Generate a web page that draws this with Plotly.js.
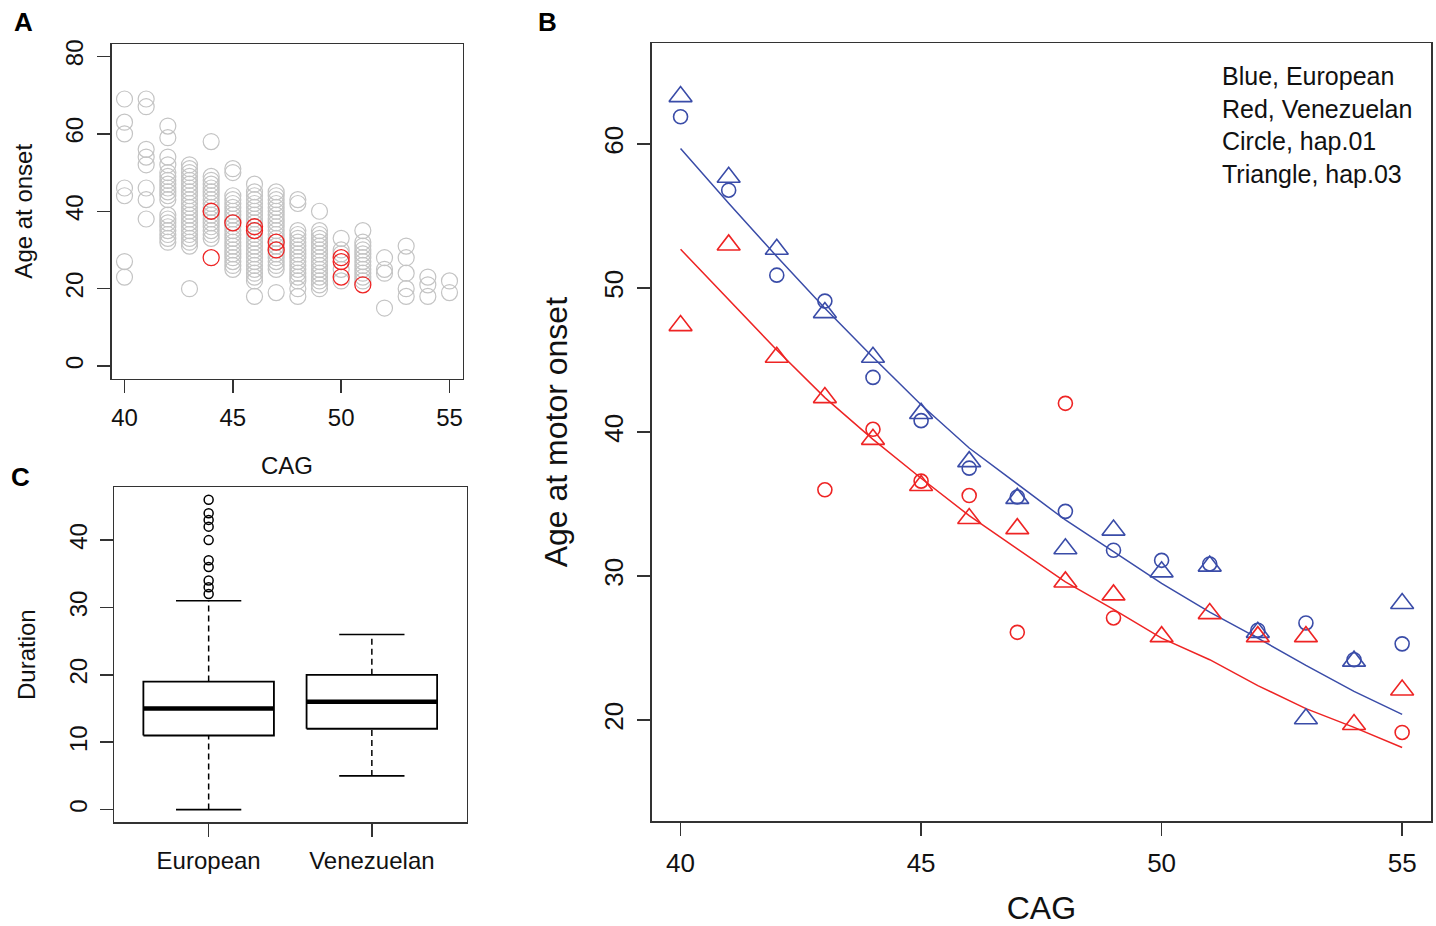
<!DOCTYPE html>
<html>
<head>
<meta charset="utf-8">
<script src="https://cdn.plot.ly/plotly-3.0.1.min.js"></script>
<style>html,body{margin:0;padding:0;background:#fff;}#chart{width:1436px;height:926px;}</style>
</head>
<body>
<div id="chart"></div>
<script>
// ---------------- Panel A data (CAG vs age at onset) ----------------
const aGrayCag = [
  40,40,40,40,40,40,40,
  41,41,41,41,41,41,41,41,
  42,42,42,42,42,42,42,42,42,42,42,42,42,42,42,42,42,42,42,42,
  43,43,43,43,43,43,43,43,43,43,43,43,43,43,43,43,43,43,43,43,43,43,43,
  44,44,44,44,44,44,44,44,44,44,44,44,44,44,44,44,44,44,
  45,45,45,45,45,45,45,45,45,45,45,45,45,45,45,45,45,45,45,45,45,45,
  46,46,46,46,46,46,46,46,46,46,46,46,46,46,46,46,46,46,46,46,46,46,46,46,46,46,
  47,47,47,47,47,47,47,47,47,47,47,47,47,47,47,47,47,47,47,47,47,47,
  48,48,48,48,48,48,48,48,48,48,48,48,48,48,48,48,48,48,
  49,49,49,49,49,49,49,49,49,49,49,49,49,49,49,49,49,
  50,50,50,50,50,
  51,51,51,51,51,51,51,51,51,51,51,51,
  52,52,52,52,
  53,53,53,53,53,
  54,54,54,
  55,55
];
const aGrayAge = [
  69,63,60,46,44,27,23,
  69,67,56,54,52,46,43,38,
  62,59,54,52,50,49,48,47,46,45,44,43,39,38,37,36,35,34,33,32,
  52,51,50,49,48,47,46,45,44,43,42,41,40,39,38,37,36,35,34,33,32,31,20,
  58,49,48,47,46,45,44,43,42,41,40,39,38,37,36,35,34,33,
  51,50,44,43,42,41,40,39,38,37,36,35,34,33,32,31,30,29,28,27,26,25,
  47,45,44,43,42,41,40,39,38,37,36,35,34,33,32,31,30,29,28,27,26,25,24,23,22,18,
  45,44,43,42,41,40,39,38,37,36,35,34,33,32,31,30,29,28,27,26,25,19,
  43,42,35,34,33,32,31,30,29,28,27,26,25,24,23,22,20,18,
  40,35,34,33,32,31,30,29,28,27,26,25,24,23,22,21,20,
  33,30,29,25,22,
  35,32,31,30,29,28,27,26,25,24,23,22,
  28,25,24,15,
  31,28,24,20,18,
  23,21,18,
  22,19
];
const aRedCag = [44,44,45,46,46,47,47,50,50,50,51];
const aRedAge = [40,28,37,36,35,32,30,28,27,23,21];

// ---------------- Panel C data (duration boxplot stats) ----------------
const cGroups = ['European','Venezuelan'];
const cLow  = [0, 5];
const cQ1   = [11, 12];
const cMed  = [15, 16];
const cQ3   = [19, 20];
const cHigh = [31, 26];
const cEurOutliers = [46,44,43,42,40,37,36,34,33,32];

// ---------------- Panel B data (CAG vs age at motor onset) ----------------
const bCag = [40,41,42,43,44,45,46,47,48,49,50,51,52,53,54,55];
const bEurHap01 = [61.9,56.8,50.9,49.1,43.8,40.8,37.5,35.5,34.5,31.8,31.1,30.85,26.25,26.75,24.2,25.3];
const bEurHap03 = [63.3,57.7,52.7,48.3,45.2,41.3,37.95,35.4,31.9,33.2,30.3,30.7,26.1,20.1,24.1,28.1];
const bVenHap01 = [null,null,null,36.0,40.2,36.6,35.6,26.1,42.0,27.1,null,null,null,null,null,19.15];
const bVenHap03 = [47.4,53.0,45.2,42.4,39.5,36.3,34.0,33.3,29.6,28.7,25.8,27.4,25.8,25.8,19.7,22.1];
const bEurFit = [59.7,55.9,52.2,48.6,45.2,41.9,38.9,36.4,33.9,31.7,29.5,27.5,25.7,23.8,22.0,20.4];
const bVenFit = [52.7,49.2,45.7,42.4,39.5,36.8,34.2,31.9,29.6,27.7,25.7,24.2,22.4,20.8,19.5,18.1];
const bNote = ['Blue, European','Red, Venezuelan','Circle, hap.01','Triangle, hap.03'];

// ---------------- styling ----------------
const W = 1436, H = 926;
const FONT = 'Liberation Sans, Arial, Helvetica, sans-serif';
const GRAY = '#c4c4c4', RED = '#ee2424', BLUE = '#3a4ca8', FRAME = '#333333';
const px2x = p => p / W;
const px2y = p => 1 - p / H;

const traces = [];
// Panel A
traces.push({type:'scatter', mode:'markers', x:aGrayCag, y:aGrayAge, xaxis:'x', yaxis:'y',
  marker:{symbol:'circle-open', size:16, color:GRAY, line:{width:1.2, color:GRAY}}, hoverinfo:'x+y'});
traces.push({type:'scatter', mode:'markers', x:aRedCag, y:aRedAge, xaxis:'x', yaxis:'y',
  marker:{symbol:'circle-open', size:16, color:RED, line:{width:1.3, color:RED}}, hoverinfo:'x+y'});

// Panel C: boxes built from stats
const HALF = 0.4, CAP = 0.2;
cGroups.forEach((g, i) => {
  const c = i + 1;
  traces.push({type:'scatter', mode:'lines', xaxis:'x2', yaxis:'y2', hoverinfo:'skip',
    x:[c, c, null, c, c], y:[cLow[i], cQ1[i], null, cQ3[i], cHigh[i]],
    line:{color:'#000', width:1.5, dash:'6px,4px'}, connectgaps:false});
  traces.push({type:'scatter', mode:'lines', xaxis:'x2', yaxis:'y2', hoverinfo:'skip',
    x:[c-CAP, c+CAP, null, c-CAP, c+CAP], y:[cLow[i], cLow[i], null, cHigh[i], cHigh[i]],
    line:{color:'#000', width:1.6}});
  traces.push({type:'scatter', mode:'lines', xaxis:'x2', yaxis:'y2', name:g,
    x:[c-HALF, c+HALF, c+HALF, c-HALF, c-HALF], y:[cQ1[i], cQ1[i], cQ3[i], cQ3[i], cQ1[i]],
    fill:'toself', fillcolor:'#fff', line:{color:'#000', width:1.8}});
  traces.push({type:'scatter', mode:'lines', xaxis:'x2', yaxis:'y2', hoverinfo:'skip',
    x:[c-HALF, c+HALF], y:[cMed[i], cMed[i]], line:{color:'#000', width:4.5}});
});
traces.push({type:'scatter', mode:'markers', xaxis:'x2', yaxis:'y2',
  x:cEurOutliers.map(() => 1), y:cEurOutliers,
  marker:{symbol:'circle-open', size:9, color:'#000', line:{width:1.5, color:'#000'}}});

// Panel B
traces.push({type:'scatter', mode:'lines', x:bCag, y:bEurFit, xaxis:'x3', yaxis:'y3', line:{color:BLUE, width:1.5}});
traces.push({type:'scatter', mode:'lines', x:bCag, y:bVenFit, xaxis:'x3', yaxis:'y3', line:{color:RED, width:1.5}});
traces.push({type:'scatter', mode:'markers', x:bCag, y:bEurHap01, xaxis:'x3', yaxis:'y3',
  marker:{symbol:'circle-open', size:14, color:BLUE, line:{width:1.6, color:BLUE}}});
traces.push({type:'scatter', mode:'markers', x:bCag, y:bEurHap03, xaxis:'x3', yaxis:'y3',
  marker:{symbol:'triangle-up-open', size:20, color:BLUE, line:{width:1.6, color:BLUE}}});
traces.push({type:'scatter', mode:'markers', x:bCag, y:bVenHap01, xaxis:'x3', yaxis:'y3',
  marker:{symbol:'circle-open', size:14, color:RED, line:{width:1.6, color:RED}}});
traces.push({type:'scatter', mode:'markers', x:bCag, y:bVenHap03, xaxis:'x3', yaxis:'y3',
  marker:{symbol:'triangle-up-open', size:20, color:RED, line:{width:1.6, color:RED}}});

function axisBase(fs, extra) {
  return Object.assign({
    showline:true, mirror:true, linecolor:FRAME, linewidth:1.5,
    ticks:'outside', ticklen:13, tickwidth:1.5, tickcolor:FRAME,
    showgrid:false, zeroline:false, automargin:false, fixedrange:true,
    tickfont:{family:FONT, size:fs, color:'#111'}
  }, extra);
}

const layout = {
  width:W, height:H, margin:{l:0, r:0, t:0, b:0},
  paper_bgcolor:'#fff', plot_bgcolor:'#fff', showlegend:false,
  font:{family:FONT, color:'#111'},
  xaxis: axisBase(24, {domain:[px2x(111.5), px2x(462.5)], anchor:'y', range:[39.4, 55.6],
    tickvals:[40,45,50,55], ticklabelstandoff:4,
    title:{text:'CAG', font:{family:FONT, size:24, color:'#111'}, standoff:27}}),
  yaxis: axisBase(24, {domain:[px2y(378.5), px2y(44)], anchor:'x', range:[-3.2, 83.2],
    tickvals:[0,20,40,60,80], tickangle:-90, ticklabelstandoff:4,
    title:{text:'Age at onset', font:{family:FONT, size:24, color:'#111'}, standoff:22}}),
  xaxis2: axisBase(24, {domain:[px2x(114), px2x(466.5)], anchor:'y2', range:[0.42, 2.58],
    tickvals:[1,2], ticktext:cGroups, ticklabelstandoff:4}),
  yaxis2: axisBase(24, {domain:[px2y(822), px2y(487.3)], anchor:'x2', range:[-1.84, 47.84],
    tickvals:[0,10,20,30,40], tickangle:-90, ticklabelstandoff:3,
    title:{text:'Duration', font:{family:FONT, size:24, color:'#111'}, standoff:22}}),
  xaxis3: axisBase(26, {domain:[px2x(651.7), px2x(1431)], anchor:'y3', range:[39.4, 55.6],
    tickvals:[40,45,50,55], ticklabelstandoff:5,
    title:{text:'CAG', font:{family:FONT, size:32, color:'#111'}, standoff:41}}),
  yaxis3: axisBase(26, {domain:[px2y(821), px2y(43.3)], anchor:'x3', range:[13, 67],
    tickvals:[20,30,40,50,60], tickangle:-90, ticklabelstandoff:4,
    title:{text:'Age at motor onset', font:{family:FONT, size:32, color:'#111'}, standoff:21}}),
  annotations:[
    {text:'<b>A</b>', x:px2x(23), y:px2y(22), xref:'paper', yref:'paper', showarrow:false, xanchor:'center', yanchor:'middle', font:{family:FONT, size:26, color:'#000'}},
    {text:'<b>B</b>', x:px2x(547), y:px2y(22), xref:'paper', yref:'paper', showarrow:false, xanchor:'center', yanchor:'middle', font:{family:FONT, size:26, color:'#000'}},
    {text:'<b>C</b>', x:px2x(20), y:px2y(477), xref:'paper', yref:'paper', showarrow:false, xanchor:'center', yanchor:'middle', font:{family:FONT, size:26, color:'#000'}},
    {text:bNote.join('<br>'), x:px2x(1220), y:px2y(125), xref:'paper', yref:'paper', showarrow:false, xanchor:'left', yanchor:'middle', align:'left', font:{family:FONT, size:25, color:'#111'}}
  ]
};

Plotly.newPlot('chart', traces, layout, {displayModeBar:false, staticPlot:true});
</script>
</body>
</html>
